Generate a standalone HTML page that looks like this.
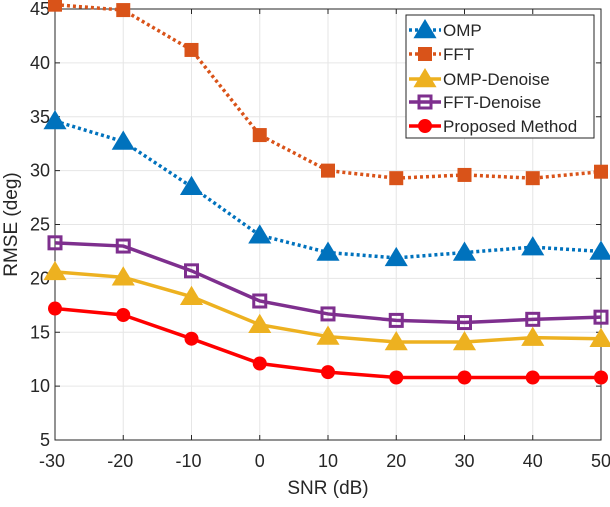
<!DOCTYPE html>
<html><head><meta charset="utf-8"><style>
body{margin:0;background:#fff}
svg text{font-family:"Liberation Sans",sans-serif;fill:#262626}
</style></head><body>
<svg id="chart" width="610" height="502" xmlns="http://www.w3.org/2000/svg">
<rect x="0" y="0" width="610" height="502" fill="#fff"/>
<g id="grid"></g><g id="axes"></g><g id="series"></g><g id="legend"></g>
</svg>
<script>
const snr=[-30,-20,-10,0,10,20,30,40,50];
const xTicks=[-30,-20,-10,0,10,20,30,40,50];
const yTicks=[5,10,15,20,25,30,35,40,45];
const omp=[34.6,32.7,28.5,24.0,22.4,21.9,22.4,22.9,22.5];
const fft=[45.4,44.9,41.2,33.3,30.0,29.3,29.6,29.3,29.9];
const ompDen=[20.6,20.1,18.3,15.7,14.6,14.1,14.1,14.5,14.4];
const fftDen=[23.3,23.0,20.7,17.9,16.7,16.1,15.9,16.2,16.4];
const proposed=[17.2,16.6,14.4,12.1,11.3,10.8,10.8,10.8,10.8];
const names=["OMP","FFT","OMP-Denoise","FFT-Denoise","Proposed Method"];

const L=55,R=601,T=9,B=440;
const sx=v=>L+(v+30)/80*(R-L);
const sy=v=>B-(v-5)/40*(B-T);
const NS="http://www.w3.org/2000/svg";
function mk(tag,at,parent){const e=document.createElementNS(NS,tag);for(const k in at)e.setAttribute(k,at[k]);parent.appendChild(e);return e;}
const grid=document.getElementById('grid'),axes=document.getElementById('axes'),ser=document.getElementById('series'),leg=document.getElementById('legend');

xTicks.forEach(v=>{const x=sx(v);
 let g=mk('line',{x1:x,x2:x,y1:T,y2:B,stroke:'#e6e6e6','stroke-width':1},grid);
 
 mk('line',{x1:x,x2:x,y1:B,y2:B-5,stroke:'#262626'},axes);
 mk('line',{x1:x,x2:x,y1:T,y2:T+5,stroke:'#262626'},axes);
 let t=mk('text',{x:x-(v<0?3:0),y:B+27,'text-anchor':'middle','font-size':18},axes);t.textContent=v;
 
});
yTicks.forEach(v=>{const y=sy(v);
 let g=mk('line',{x1:L,x2:R,y1:y,y2:y,stroke:'#e6e6e6','stroke-width':1},grid);
 
 mk('line',{x1:L,x2:L+5,y1:y,y2:y,stroke:'#262626'},axes);
 mk('line',{x1:R,x2:R-5,y1:y,y2:y,stroke:'#262626'},axes);
 let t=mk('text',{x:L-5,y:y+6,'text-anchor':'end','font-size':18},axes);t.textContent=v;
 
});
let box=mk('rect',{x:L,y:T,width:R-L,height:B-T,fill:'none',stroke:'#262626','stroke-width':1},axes);

let xl=mk('text',{x:(L+R)/2,y:494,'text-anchor':'middle','font-size':19},axes);xl.textContent='SNR (dB)';

let yl=mk('text',{x:0,y:0,'text-anchor':'middle','font-size':19,transform:`translate(17,${(T+B)/2}) rotate(-90)`},axes);yl.textContent='RMSE (deg)';


const styles=[
 {c:'#0072BD',dash:'3,3',m:'tri'},
 {c:'#D95319',dash:'3,3',m:'sq'},
 {c:'#EDB120',dash:'',m:'tri'},
 {c:'#7E2F8E',dash:'',m:'hsq'},
 {c:'#FF0000',dash:'',m:'circ'}];
const data=[omp,fft,ompDen,fftDen,proposed];

function marker(type,x,y,c,parent,s){
 s=s||1;
 if(type==='tri'){const h=11*s;return mk('polygon',{points:`${x},${y-h} ${x-h*1.05},${y+h*0.75} ${x+h*1.05},${y+h*0.75}`,fill:c},parent);}
 if(type==='sq'){const h=7*s;return mk('rect',{x:x-h,y:y-h,width:2*h,height:2*h,fill:c},parent);}
 if(type==='hsq'){const h=6*s;return mk('rect',{x:x-h,y:y-h,width:2*h,height:2*h,fill:'none',stroke:c,'stroke-width':3},parent);}
 return mk('circle',{cx:x,cy:y,r:7*s,fill:c},parent);
}
data.forEach((arr,i)=>{const st=styles[i];
 const g=mk('g',{},ser);
 
 
 const pts=arr.map((v,j)=>sx(snr[j])+','+sy(v)).join(' ');
 const pl=mk('polyline',{points:pts,fill:'none',stroke:st.c,'stroke-width':3.5,'stroke-dasharray':st.dash},g);
 
 arr.forEach((v,j)=>{const m=marker(st.m,sx(snr[j]),sy(v),st.c,g);
  });
});

const lb=mk('rect',{x:406,y:15,width:188,height:123,fill:'#fff',stroke:'#262626','stroke-width':1},leg);

const rowY=[30,54,79,102,126];
names.forEach((n,i)=>{const st=styles[i],y=rowY[i];
 const g=mk('g',{},leg);
 
 mk('line',{x1:409,x2:441,y1:y,y2:y,stroke:st.c,'stroke-width':3.5,'stroke-dasharray':st.dash},g);
 marker(st.m,425,y,st.c,g);
 const t=mk('text',{x:443,y:y+6,'font-size':17},g);t.textContent=n;
});
</script>
</body></html>
